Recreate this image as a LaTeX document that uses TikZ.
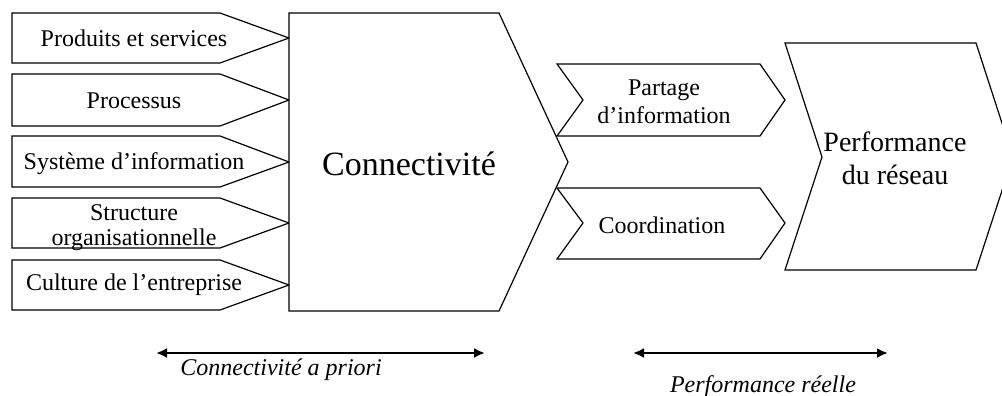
\documentclass[tikz,border=0pt]{standalone}
\usepackage{fontspec}
\setmainfont{Liberation Serif}
\usetikzlibrary{arrows.meta}
\tikzset{
  shp/.style={draw=black, line width=1.2pt, line join=miter, fill=white},
  lbl/.style={inner sep=0pt, anchor=base, align=center, font=\fontsize{24}{25}\selectfont},
  big/.style={inner sep=0pt, anchor=base, font=\fontsize{34}{38}\selectfont},
  perf/.style={inner sep=0pt, anchor=base, align=center, font=\fontsize{28}{33}\selectfont},
  ital/.style={inner sep=0pt, anchor=base, font=\fontsize{24}{26}\selectfont\itshape},
  span/.style={line width=2.2pt, {Latex[length=11pt,width=10pt]}-{Latex[length=11pt,width=10pt]}}
}
\begin{document}
\begin{tikzpicture}[x=1pt,y=-1pt]
\useasboundingbox (0,0) rectangle (1002,396);
\clip (0,0) rectangle (1002,396);
% left chevrons
\draw[shp] (12,13) -- (220,13) -- (289,38) -- (220,63) -- (12,63) -- cycle;
\draw[shp] (12,74) -- (220,74) -- (289,100) -- (220,126) -- (12,126) -- cycle;
\draw[shp] (12,136) -- (220,136) -- (289,162) -- (220,187) -- (12,187) -- cycle;
\draw[shp] (12,198) -- (220,198) -- (289,223) -- (220,248) -- (12,248) -- cycle;
\draw[shp] (12,260) -- (220,260) -- (289,285) -- (220,310) -- (12,310) -- cycle;
\node[lbl] (ps) at (134,47) {Produits et services};
\node[lbl] (pr) at (134,109) {Processus};
\node[lbl] (si) at (134,169) {Système d’information};
\node[lbl] (so) at (134,245) {Structure\\organisationnelle};
\node[lbl] (ce) at (134,290) {Culture de l’entreprise};
% big connectivity shape
\draw[shp] (289,13) -- (499,13) -- (568,162) -- (499,311) -- (289,311) -- cycle;
\node[big] (co) at (409,175) {Connectivité};
% middle chevrons
\draw[shp] (557,64) -- (760,64) -- (785,100) -- (760,136) -- (557,136) -- (583,100) -- cycle;
\draw[shp] (557,188) -- (760,188) -- (785,223) -- (760,259) -- (557,259) -- (583,223) -- cycle;
\node[lbl, font=\fontsize{24}{28}\selectfont] (pi) at (664,123) {Partage\\d’information};
\node[lbl] (cd) at (662,233) {Coordination};
% performance shape (tip runs past the right edge)
\draw[shp] (785,43) -- (976,43) -- (1013,157) -- (976,270) -- (785,270) -- (822,157) -- cycle;
\node[perf] (pf) at (895,184) {Performance\\du réseau};
% span arrows
\coordinate (a1) at (156,353);
\coordinate (a2) at (485,353);
\coordinate (b1) at (633,353);
\coordinate (b2) at (888,353);
\draw[span] (a1) -- (a2);
\draw[span] (b1) -- (b2);
\node[ital] (la) at (281,375) {Connectivité a priori};
\node[ital] (lb) at (763,392) {Performance réelle};
\end{tikzpicture}
\end{document}
